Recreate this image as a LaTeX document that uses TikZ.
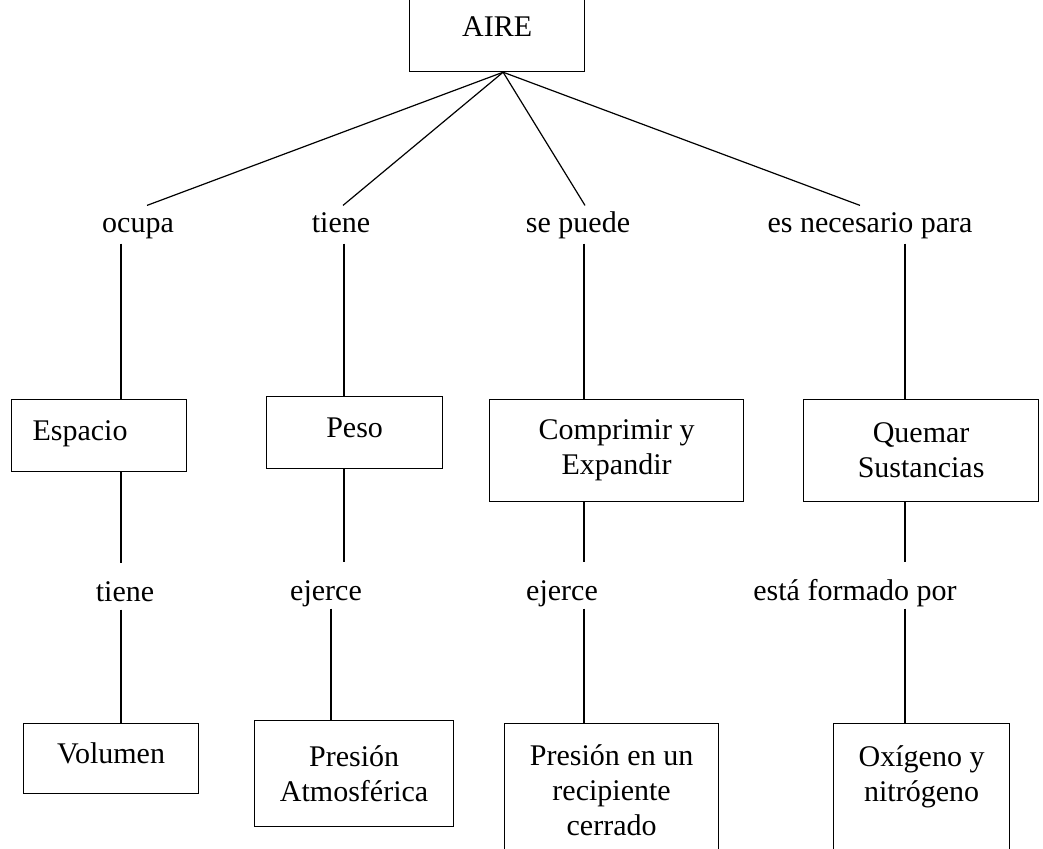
\documentclass[tikz,border=0pt]{standalone}
\usepackage{fontspec}
\setmainfont{Liberation Serif}
\begin{document}
\begin{tikzpicture}[x=0.5pt,y=-0.5pt,line width=0.6pt,
        every node/.style={font=\fontsize{15}{17.5}\selectfont},
        box/.style={draw,inner sep=0pt,align=center,anchor=north west},
        one/.style={text height=.7em,text depth=.2em},
        rel/.style={inner sep=0pt,anchor=base,text height=13pt,text depth=5.5pt},
        relb/.style={inner sep=0pt,anchor=base,text height=18.5pt,text depth=4pt}]
            \useasboundingbox (0,0) rectangle (1043,848);
            \node(aire)[box,one,minimum width=87.5pt,minimum height=40.5pt] at (409,-10){AIRE};
            \node(ocupa)[rel] at (138,232){ocupa};
            \node(tiene)[rel] at (341,232){tiene};
            \node(puede)[rel] at (578,232){se puede};
            \node(necesario)[rel] at (870,232){es necesario para};
            \node(espacio)[box,one,inner xsep=10.5pt,text width=66.5pt,align=left,minimum height=36pt] at (11,399){Espacio};
            \node(peso)[box,one,minimum width=88pt,minimum height=36pt] at (266,396){Peso};
            \node(comprimir)[box,minimum width=127pt,minimum height=51pt] at (489,399){Comprimir y\\Expandir};
            \node(quemar)[box,minimum width=117.5pt,minimum height=51pt] at (803,399){Quemar\\Sustancias};
            \node(tiene2)[relb] at (125,601){tiene};
            \node(ejerce)[relb] at (326,600){ejerce};
            \node(ejerce2)[relb] at (562,600){ejerce};
            \node(formado)[relb] at (855,600){está formado por};
            \node(volumen)[box,one,minimum width=87.5pt,minimum height=35pt] at (23,723){Volumen};
            \node(patm)[box,minimum width=99.5pt,minimum height=53pt] at (254,720){Presión\\Atmosférica};
            \node(recipiente)[box,minimum width=107pt,minimum height=67pt] at (504,723){Presión en un\\recipiente\\cerrado};
            \node(oxigeno)[box,minimum width=88pt,minimum height=67pt] at (833,723){Oxígeno y\\nitrógeno\\\mbox{}};
            \coordinate(c1) at (121,0);
            \coordinate(c2) at (344,0);
            \coordinate(c2b) at (331,0);
            \coordinate(c3) at (584,0);
            \coordinate(c4) at (905,0);
            \draw ([xshift=3pt]aire.south) -- ([xshift=4.5pt]ocupa.north);
            \draw ([xshift=3pt]aire.south) -- ([xshift=1pt]tiene.north);
            \draw ([xshift=3pt]aire.south) -- ([xshift=3.5pt]puede.north);
            \draw ([xshift=3pt]aire.south) -- ([xshift=-5pt]necesario.north);
            \draw (ocupa.south -| c1) -- (espacio.north -| c1);
            \draw (espacio.south -| c1) -- (tiene2.north -| c1);
            \draw (tiene2.south -| c1) -- (volumen.north -| c1);
            \draw (tiene.south -| c2) -- (peso.north -| c2);
            \draw (peso.south -| c2) -- (ejerce.north -| c2);
            \draw (ejerce.south -| c2b) -- (patm.north -| c2b);
            \draw (puede.south -| c3) -- (comprimir.north -| c3);
            \draw (comprimir.south -| c3) -- (ejerce2.north -| c3);
            \draw (ejerce2.south -| c3) -- (recipiente.north -| c3);
            \draw (necesario.south -| c4) -- (quemar.north -| c4);
            \draw (quemar.south -| c4) -- (formado.north -| c4);
            \draw (formado.south -| c4) -- (oxigeno.north -| c4);
        \end{tikzpicture}
\end{document}
